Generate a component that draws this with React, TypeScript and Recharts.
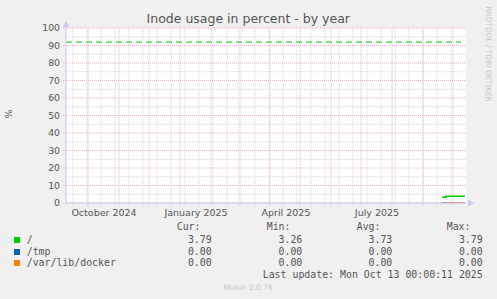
import {
	LineChart,
	Line,
	XAxis,
	YAxis,
	ReferenceLine,
	ReferenceDot,
	ReferenceArea,
} from 'recharts';

// day 0 of the x scale
const epoch = '2024-09-01';

const monthStarts = [
	'2024-09-01', '2024-10-01', '2024-11-01', '2024-12-01', '2025-01-01',
	'2025-02-01', '2025-03-01', '2025-04-01', '2025-05-01', '2025-06-01',
	'2025-07-01', '2025-08-01', '2025-09-01', '2025-10-01',
];
const fortnightMarks = [
	'2024-09-16', '2024-09-30', '2024-10-14', '2024-10-28', '2024-11-11',
	'2024-11-25', '2024-12-09', '2024-12-23', '2025-01-06', '2025-01-20',
	'2025-02-03', '2025-02-17', '2025-03-03', '2025-03-17', '2025-03-31',
	'2025-04-14', '2025-04-28', '2025-05-12', '2025-05-26', '2025-06-09',
	'2025-06-23', '2025-07-07', '2025-07-21', '2025-08-04', '2025-08-18',
	'2025-09-01', '2025-09-15', '2025-09-29',
];
const labelDates = ['2024-10-17', '2025-01-17', '2025-04-17', '2025-07-17'];
const labelNames = ['October 2024', 'January 2025', 'April 2025', 'July 2025'];

const majorPct = [0, 10, 20, 30, 40, 50, 60, 70, 80, 90, 100];
const minorPct = [5, 15, 25, 35, 45, 55, 65, 75, 85, 95];

const rootTimes = ['2025-09-20', '2025-09-24', '2025-10-13'];
const rootValues = [3.26, 3.79, 3.79];
const tmpTimes = ['2025-09-20', '2025-10-13'];
const tmpValues = [0, 0];
const dockerTimes = ['2025-09-24', '2025-10-13'];
const dockerValues = [0, 0];
const warnTimes = ['2024-09-09', '2025-10-09'];
const warnValues = [92, 92];

const legendNames = ['/', '/tmp', '/var/lib/docker'];
const legendColors = ['#00CC00', '#0066B3', '#FF8000'];
const curValues = [3.79, 0, 0];
const minValues = [3.26, 0, 0];
const avgValues = [3.73, 0, 0];
const maxValues = [3.79, 0, 0];

const dayOf = (s: string) =>
	(Date.parse(s + 'T00:00:00Z') - Date.parse(epoch + 'T00:00:00Z')) / 86400000;

const toSeries = (times: string[], values: number[]) =>
	times.map((t, i) => ({day: dayOf(t), v: values[i]}));

const X_MIN = 8;
const X_MAX = 408;

const MAJOR = '#eab0b0';
const MINOR = '#d4d4d4';
const AXIS = '#c9c9f2';
const TEXT = '#555555';
const SANS = '"DejaVu Sans", sans-serif';
const MONO = '"DejaVu Sans Mono", monospace';

function Txt({
	x,
	cy,
	size,
	color = TEXT,
	font = MONO,
	align = 'left',
	children,
}: {
	x: number;
	cy: number;
	size: number;
	color?: string;
	font?: string;
	align?: 'left' | 'right' | 'center';
	children: React.ReactNode;
}) {
	const lh = 14;
	const style: React.CSSProperties = {
		position: 'absolute',
		top: cy - lh / 2,
		height: lh,
		lineHeight: lh + 'px',
		fontSize: size,
		fontFamily: font,
		color,
		whiteSpace: 'pre',
	};
	if (align === 'right') style.right = 497 - x;
	else if (align === 'center') {
		style.left = x - 200;
		style.width = 400;
		style.textAlign = 'center';
	} else style.left = x;
	return <div style={style}>{children}</div>;
}

export default function App() {
	const rows = [40, 51.7, 63.3].map(d => d + 200);
	const colEnds = [211.7, 302.3, 392.3, 482.7];
	const headers = ['Cur:', 'Min:', 'Avg:', 'Max:'];
	const cols = [curValues, minValues, avgValues, maxValues];

	return (
		<div
			style={{
				position: 'absolute',
				left: 0,
				top: 0,
				width: 497,
				height: 299,
				background: '#f0f0f0',
				overflow: 'hidden',
			}}
		>
			<Txt x={248.3} cy={18.5} size={12.5} font={SANS} align="center">
				Inode usage in percent - by year
			</Txt>
			<div
				style={{
					position: 'absolute',
					left: 8.5 - 20,
					top: 114 - 7,
					width: 40,
					height: 14,
					lineHeight: '14px',
					textAlign: 'center',
					fontFamily: SANS,
					fontSize: 9.5,
					color: TEXT,
					transform: 'rotate(-90deg)',
				}}
			>
				%
			</div>
			<div
				style={{
					position: 'absolute',
					left: 487.5 - 60,
					top: 53.5 - 6,
					width: 120,
					height: 12,
					lineHeight: '12px',
					textAlign: 'center',
					fontFamily: SANS,
					fontSize: 7.4,
					color: '#c6c6c6',
					transform: 'rotate(90deg)',
					whiteSpace: 'pre',
				}}
			>
				RRDTOOL / TOBI OETIKER
			</div>

			<div style={{position: 'absolute', left: 0, top: 0}}>
				<LineChart
					width={497}
					height={299}
					margin={{top: 28, right: 31, bottom: 76, left: 36}}
				>
					<XAxis
						type="number"
						dataKey="day"
						domain={[X_MIN, X_MAX]}
						allowDataOverflow
						ticks={labelDates.map(dayOf)}
						tickFormatter={(d: number) =>
							labelNames[labelDates.map(dayOf).indexOf(d)] ?? ''
						}
						tickLine={false}
						tickSize={0}
						tickMargin={6}
						height={20}
						axisLine={{stroke: AXIS}}
						tick={{fill: TEXT, fontSize: 9.5, fontFamily: SANS}}
					/>
					<YAxis
						type="number"
						domain={[0, 100]}
						allowDataOverflow
						ticks={majorPct}
						width={30}
						tickSize={3}
						tickMargin={3}
						tickLine={{stroke: MAJOR, strokeDasharray: '1 1'}}
						axisLine={{stroke: AXIS}}
						tick={{fill: TEXT, fontSize: 9.3, fontFamily: SANS}}
					/>
					<ReferenceArea
						x1={X_MIN}
						x2={X_MAX}
						y1={0}
						y2={100}
						fill="#ffffff"
						fillOpacity={1}
						stroke="none"
					/>
					{minorPct.map(p => (
						<ReferenceLine
							key={'hm' + p}
							y={p}
							stroke={MINOR}
							strokeDasharray="1 1"
						/>
					))}
					{fortnightMarks.map(d => (
						<ReferenceLine
							key={'vm' + d}
							segment={[
								{x: dayOf(d), y: -1.5},
								{x: dayOf(d), y: 100},
							]}
							ifOverflow="visible"
							stroke={MINOR}
							strokeDasharray="1 1"
						/>
					))}
					{majorPct.map(p => (
						<ReferenceLine
							key={'hM' + p}
							y={p}
							stroke={MAJOR}
							strokeDasharray="1 1"
						/>
					))}
					{monthStarts
						.filter(d => dayOf(d) >= X_MIN)
						.map(d => (
							<ReferenceLine
								key={'vM' + d}
								segment={[
									{x: dayOf(d), y: -1.5},
									{x: dayOf(d), y: 100},
								]}
								ifOverflow="visible"
								stroke={MAJOR}
								strokeDasharray="1 1"
							/>
						))}
					<ReferenceDot
						x={X_MAX}
						y={0}
						ifOverflow="visible"
						shape={(p: {cx: number; cy: number}) => (
							<path
								d={`M${p.cx + 2},${p.cy - 3.5}L${p.cx + 8},${p.cy}L${p.cx + 2},${p.cy + 3.5}Z`}
								fill={AXIS}
							/>
						)}
					/>
					<ReferenceDot
						x={X_MIN}
						y={100}
						ifOverflow="visible"
						shape={(p: {cx: number; cy: number}) => (
							<path
								d={`M${p.cx - 3.5},${p.cy - 1}L${p.cx},${p.cy - 7}L${p.cx + 3.5},${p.cy - 1}Z`}
								fill={AXIS}
							/>
						)}
					/>
					<Line
						data={toSeries(warnTimes, warnValues)}
						dataKey="v"
						type="linear"
						stroke="#00CC00"
						strokeWidth={1}
						strokeDasharray="6 4"
						dot={false}
						isAnimationActive={false}
					/>
					<Line
						data={toSeries(tmpTimes, tmpValues)}
						dataKey="v"
						type="stepAfter"
						stroke="#0066B3"
						strokeWidth={1.5}
						dot={false}
						isAnimationActive={false}
					/>
					<Line
						data={toSeries(dockerTimes, dockerValues)}
						dataKey="v"
						type="stepAfter"
						stroke="#FF8000"
						strokeWidth={1.5}
						dot={false}
						isAnimationActive={false}
					/>
					<Line
						data={toSeries(rootTimes, rootValues)}
						dataKey="v"
						type="stepAfter"
						stroke="#00CC00"
						strokeWidth={1.5}
						dot={false}
						isAnimationActive={false}
					/>
				</LineChart>
			</div>

			{headers.map((h, i) => (
				<Txt key={h} x={176.7 + i * 90} cy={227} size={9.9}>
					{h}
				</Txt>
			))}
			{legendNames.map((n, r) => (
				<div key={n}>
					<div
						style={{
							position: 'absolute',
							left: 14,
							top: rows[r] - 3,
							width: 6,
							height: 6,
							background: legendColors[r],
						}}
					/>
					<Txt x={26.7} cy={rows[r]} size={9.9}>
						{n}
					</Txt>
					{cols.map((c, i) => (
						<Txt key={i} x={colEnds[i]} cy={rows[r]} size={9.9} align="right">
							{c[r].toFixed(2)}
						</Txt>
					))}
				</div>
			))}
			<Txt x={482.7} cy={275.3} size={9.9} align="right">
				Last update: Mon Oct 13 00:00:11 2025
			</Txt>
			<Txt x={248} cy={288.3} size={7.6} font={SANS} color="#c8c8c8" align="center">
				Munin 2.0.76
			</Txt>
		</div>
	);
}
